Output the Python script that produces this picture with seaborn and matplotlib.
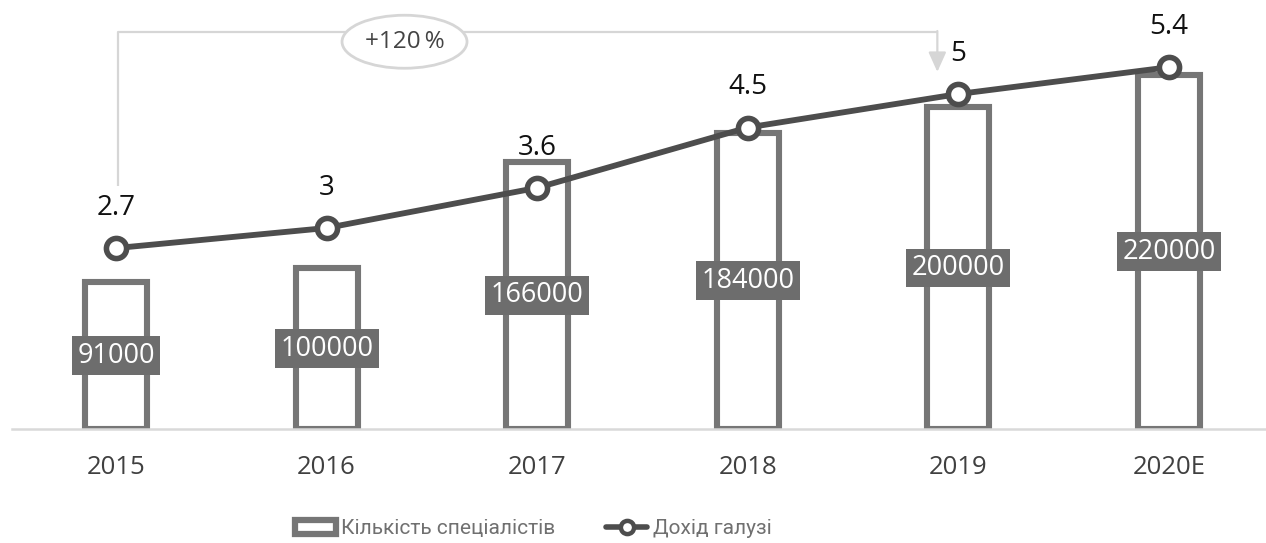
import numpy as np
import matplotlib
matplotlib.use("Agg")
import matplotlib.pyplot as plt
from matplotlib.patches import Ellipse, Patch
from matplotlib.lines import Line2D
import seaborn as sns

# Data
years = ["2015", "2016", "2017", "2018", "2019", "2020E"]
specialists = [91000, 100000, 166000, 184000, 200000, 220000]
revenue = [2.7, 3.0, 3.6, 4.5, 5.0, 5.4]
growth_label = "+120\u2009%"
legend_labels = ["Кількість спеціалістів", "Дохід галузі"]

sns.set_theme(style="white")
plt.rcParams["font.family"] = ["Open Sans", "DejaVu Sans"]

BAR_EDGE = "#767676"
LINE_COL = "#4d4d4d"
BOX_COL = "#6d6d6d"
AXIS_COL = "#d9d9d9"
NOTE_COL = "#d6d6d6"

W, H = 1266, 543
fig = plt.figure(figsize=(W / 100, H / 100), dpi=100)
base_px = 429
ax = fig.add_axes([12 / W, (H - base_px) / H, 1 - 12 / W, base_px / H])

# Bars: outlined columns
sns.barplot(x=years, y=specialists, ax=ax, width=0.295, color="white",
            edgecolor=BAR_EDGE, linewidth=4.4, saturation=1, zorder=2)

# Value boxes in the middle of each bar
for i, v in enumerate(specialists):
    ax.text(i, v / 2, f"{v}", ha="center", va="center", color="white",
            fontsize=19.5, zorder=4,
            bbox=dict(boxstyle="square,pad=0.2", fc=BOX_COL, ec="none"))

# Line on a secondary axis
ax2 = ax.twinx()
pos = np.arange(len(years))
sns.lineplot(x=pos, y=revenue, ax=ax2, color=LINE_COL, linewidth=4.2,
             marker="o", markersize=14.5, markerfacecolor="white",
             markeredgecolor=LINE_COL, markeredgewidth=4.0, zorder=5)
for i, v in enumerate(revenue):
    ax2.annotate(f"{v:g}", (i, v), xytext=(0, 29), textcoords="offset points",
                 ha="center", va="center", fontsize=20, color="#111111")

# Scales: both series share the same baseline
px_per_unit_x = 210.6
ax.set_xlim(-104 / px_per_unit_x, len(years) - 1 + 97 / px_per_unit_x)
ax.set_ylim(0, base_px / 1.61 * 1000)
ax2.set_ylim(0, base_px / 67.0)
ax2.set_xlim(ax.get_xlim())

# Growth bracket from the first point to the 2019 point
y_top = 5.93
x_end = 3.9
ax2.plot([0.01, 0.01, x_end], [3.63, y_top, y_top], color=NOTE_COL,
         linewidth=1.6, zorder=1, solid_capstyle="butt")
ax2.annotate("", xy=(x_end, 5.33), xytext=(x_end, y_top + 0.01),
             arrowprops=dict(arrowstyle="-|>,head_length=1.0,head_width=0.45",
                             color=NOTE_COL, lw=1.6, shrinkA=0, shrinkB=0),
             zorder=1)
ax2.add_patch(Ellipse((1.37, 5.78), 125 / px_per_unit_x, 53 / 67.0,
                      fc="white", ec=NOTE_COL, lw=2, zorder=3))
ax2.text(1.37, 5.78, growth_label, ha="center", va="center", fontsize=17.5,
         color="#444444", zorder=4)

# Axes styling
for a in (ax, ax2):
    a.set_ylabel("")
    a.set_yticks([])
    for s in a.spines.values():
        s.set_visible(False)
ax.spines["bottom"].set_visible(True)
ax.spines["bottom"].set_color(AXIS_COL)
ax.spines["bottom"].set_linewidth(1.8)
ax.set_xlabel("")
ax.tick_params(axis="x", length=0, pad=19, labelsize=18.5, labelcolor="#404040")
ax2.tick_params(axis="x", length=0)
ax.patch.set_visible(False)

# Legend
handles = [
    Patch(facecolor="white", edgecolor=BAR_EDGE, linewidth=4.5),
    Line2D([0], [0], color=LINE_COL, linewidth=4, marker="o", markersize=9.5,
           markerfacecolor="white", markeredgecolor=LINE_COL, markeredgewidth=3.2),
]
fig.legend(handles, legend_labels, loc="center", bbox_to_anchor=(0.421, 0.026),
           ncol=2, frameon=False, handlelength=2.0, handleheight=0.62,
           handletextpad=0.25, columnspacing=2.4,
           prop={"family": "Roboto", "size": 15},
           labelcolor="#707070")

fig.savefig("out.png", dpi=100)
